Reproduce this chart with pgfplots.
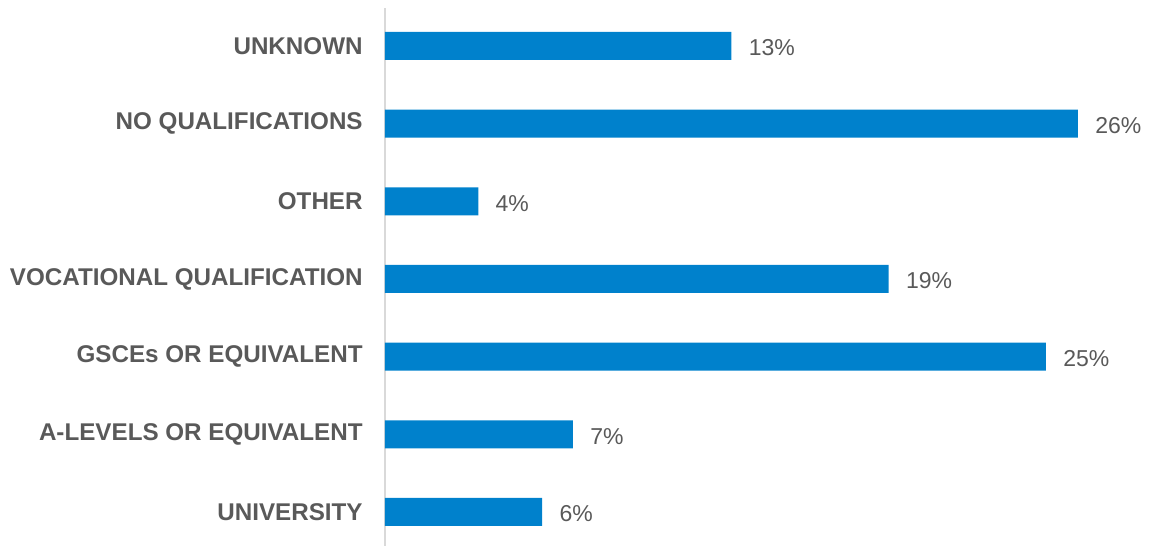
\documentclass[border=0pt]{standalone}
\usepackage{pgfplots}
\pgfplotsset{compat=1.18}
\usepackage{fontspec}
\setmainfont{Liberation Sans}
\definecolor{barblue}{HTML}{0081CC}
\definecolor{txtgray}{HTML}{595959}
\definecolor{axgray}{HTML}{D9D9D9}
\begin{document}
\begin{tikzpicture}
\path[use as bounding box] (-192.5bp,0) rectangle (383bp,273bp);
\begin{axis}[
  at={(0,0)}, anchor=south west,
  scale only axis, width=383bp, height=269bp,
  xbar, bar width=14bp,
  xmin=0, xmax=28.74,
  ymin=-0.438, ymax=6.489,
  hide x axis,
  axis y line*=left,
  y axis line style={axgray, line width=0.8bp},
  ytick={0,...,6},
  yticklabels={UNIVERSITY, A-LEVELS OR EQUIVALENT, GSCEs OR EQUIVALENT, VOCATIONAL QUALIFICATION, OTHER, NO QUALIFICATIONS, UNKNOWN},
  yticklabel style={anchor=east, inner sep=0pt, xshift=-11bp, text=txtgray, font=\fontsize{12.1bp}{14bp}\selectfont\bfseries},
  major tick length=0pt,
  nodes near coords,
  point meta=explicit symbolic,
  nodes near coords style={anchor=west, inner sep=0pt, xshift=8.5bp, yshift=-1bp, text=txtgray, font=\fontsize{11.5bp}{14bp}\selectfont},
]
\addplot[fill=barblue, draw=none] table[meta=label] {
x y label
5.9 0 6\%
7.05 1 7\%
24.8 2 25\%
18.9 3 19\%
3.5 4 4\%
26.0 5 26\%
13.0 6 13\%
};
\end{axis}
\end{tikzpicture}
\end{document}
